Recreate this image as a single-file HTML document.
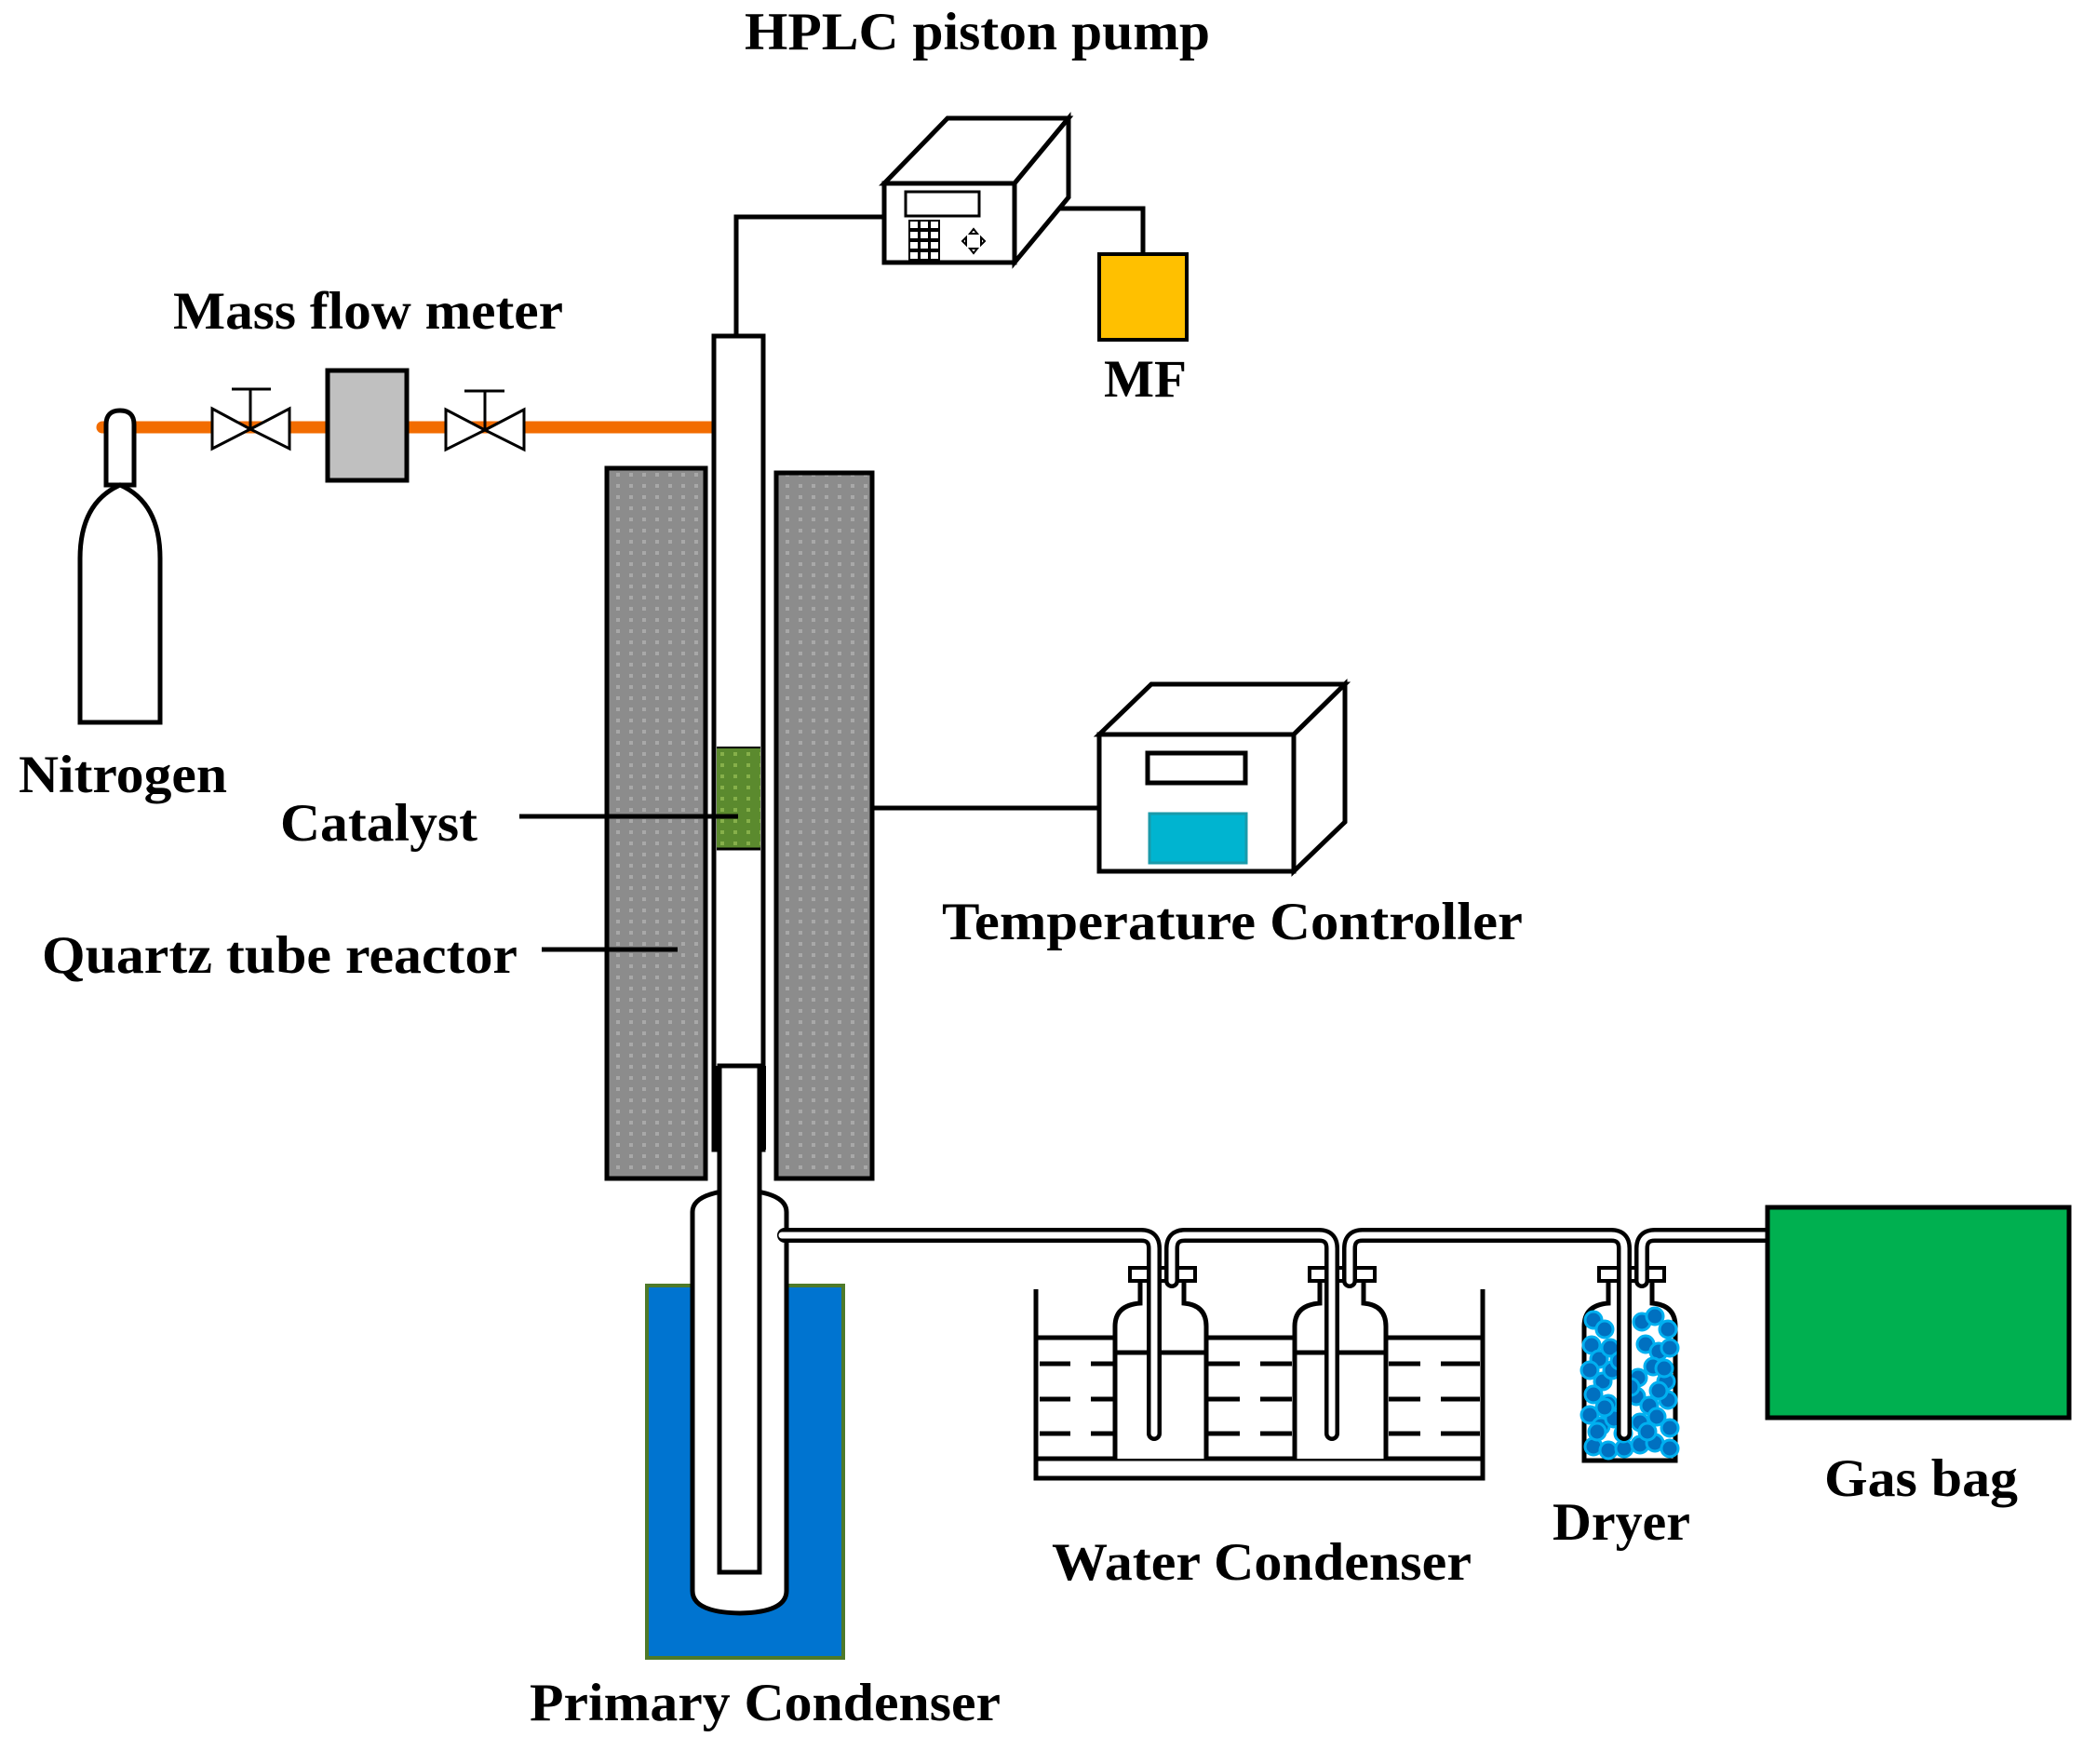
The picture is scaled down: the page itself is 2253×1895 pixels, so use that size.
<!DOCTYPE html>
<html><head><meta charset="utf-8"><style>html,body{margin:0;padding:0;background:#fff}svg{display:block}text{font-family:"Liberation Serif",serif;font-weight:bold;font-size:57px;fill:#000}</style></head><body>
<svg width="2253" height="1895" viewBox="0 0 2253 1895" xmlns="http://www.w3.org/2000/svg">
<defs>
<pattern id="fur" width="14" height="12" patternUnits="userSpaceOnUse"><rect width="14" height="12" fill="#8c8c8c"/><rect x="4" y="4" width="4" height="4" fill="#a8a8a8"/></pattern>
<pattern id="cat" width="14" height="12" patternUnits="userSpaceOnUse"><rect width="14" height="12" fill="#5b8a2e"/><rect x="4" y="4" width="4" height="4" fill="#86b04a"/></pattern>
</defs>
<text x="800" y="53" textLength="500" lengthAdjust="spacingAndGlyphs">HPLC piston pump</text>
<text x="186" y="353" textLength="419" lengthAdjust="spacingAndGlyphs">Mass flow meter</text>
<text x="1186" y="426" textLength="89" lengthAdjust="spacingAndGlyphs">MF</text>
<text x="20" y="851" textLength="224" lengthAdjust="spacingAndGlyphs">Nitrogen</text>
<text x="301" y="903" textLength="212" lengthAdjust="spacingAndGlyphs">Catalyst</text>
<text x="45" y="1045" textLength="511" lengthAdjust="spacingAndGlyphs">Quartz tube reactor</text>
<text x="1012" y="1009" textLength="624" lengthAdjust="spacingAndGlyphs">Temperature Controller</text>
<text x="569" y="1848" textLength="506" lengthAdjust="spacingAndGlyphs">Primary Condenser</text>
<text x="1130" y="1697" textLength="451" lengthAdjust="spacingAndGlyphs">Water Condenser</text>
<text x="1668" y="1654" textLength="148" lengthAdjust="spacingAndGlyphs">Dryer</text>
<text x="1960" y="1607" textLength="208" lengthAdjust="spacingAndGlyphs">Gas bag</text>

<line x1="110" y1="459" x2="772" y2="459" stroke="#f26c00" stroke-width="13" stroke-linecap="round"/>

<g stroke="#000" stroke-width="5">
<path d="M114,521 V456 Q114,441 129,441 Q144,441 144,456 V521 Z" fill="#fff"/>
<path d="M86,776 V600 Q86,540 129,521 Q172,540 172,600 V776 Z" fill="#fff"/>
<path d="M228,439 L269,461 L228,482Z M311,439 L269,461 L311,482Z" fill="#fff" stroke-width="3"/>
<path d="M269,461 V418 M249,418 H291" stroke-width="3" fill="none"/>
<path d="M479,440 L521,462 L479,483Z M563,440 L521,462 L563,483Z" fill="#fff" stroke-width="3"/>
<path d="M521,462 V420 M499,420 H542" stroke-width="3" fill="none"/>
<rect x="352" y="398" width="85" height="118" fill="#c0c0c0"/>

<path d="M791,361 V233 H950" fill="none"/>
<path d="M1113,224 H1228 V273" fill="none"/>
<rect x="1181" y="273" width="94" height="92" fill="#ffc000" stroke-width="4"/>
<path d="M950,197 L1018,127 H1148 L1090,197 Z" fill="#fff"/>
<path d="M1090,197 L1148,127 V212 L1090,282 Z" fill="#fff"/>
<rect x="950" y="197" width="140" height="85" fill="#fff"/>
<rect x="973" y="206" width="79" height="26" fill="#fff" stroke-width="3"/>
<g fill="#fff" stroke-width="2">
<rect x="977" y="237" width="10" height="9"/><rect x="988" y="237" width="10" height="9"/><rect x="999" y="237" width="10" height="9"/>
<rect x="977" y="248" width="10" height="9"/><rect x="988" y="248" width="10" height="9"/><rect x="999" y="248" width="10" height="9"/>
<rect x="977" y="259" width="10" height="9"/><rect x="988" y="259" width="10" height="9"/><rect x="999" y="259" width="10" height="9"/>
<rect x="977" y="270" width="10" height="9"/><rect x="988" y="270" width="10" height="9"/><rect x="999" y="270" width="10" height="9"/>
<path d="M1042,251 L1050,251 L1046,246Z M1042,267 L1050,267 L1046,272Z M1038,255 L1038,263 L1034,259Z M1054,255 L1054,263 L1058,259Z"/>
</g>

<rect x="652" y="503" width="106" height="763" fill="url(#fur)"/>
<rect x="834" y="508" width="103" height="758" fill="url(#fur)"/>
<rect x="767" y="361" width="53" height="874" fill="#fff"/>
<rect x="770" y="803" width="47" height="109" fill="url(#cat)" stroke="none"/>
<line x1="770" y1="803" x2="817" y2="803" stroke-width="2"/>
<line x1="770" y1="912" x2="817" y2="912" stroke-width="3"/>
<line x1="558" y1="877" x2="793" y2="877"/>
<line x1="582" y1="1020" x2="728" y2="1020"/>
<line x1="937" y1="868" x2="1181" y2="868"/>

<path d="M1181,789 L1237,735 H1445 L1390,789 Z" fill="#fff"/>
<path d="M1390,789 L1445,735 V883 L1390,936 Z" fill="#fff"/>
<rect x="1181" y="789" width="209" height="147" fill="#fff"/>
<rect x="1233" y="809" width="105" height="32" fill="#fff"/>
<rect x="1235" y="874" width="104" height="53" fill="#00b4d0" stroke="#1a9aaa" stroke-width="3"/>

<rect x="695" y="1381" width="211" height="400" fill="#0074d0" stroke="#4e7a2a" stroke-width="4"/>
<path d="M744,1302 V1709 Q744,1732 795,1733 Q845,1732 845,1709 V1302 Q845,1281 795,1278 Q744,1281 744,1302Z" fill="#fff"/>
<rect x="773" y="1145" width="43" height="544" fill="#fff"/>
<line x1="769" y1="1145" x2="769" y2="1235" stroke-width="9"/>
<line x1="819" y1="1145" x2="819" y2="1235" stroke-width="8"/>

<path d="M1113,1385 V1588 H1593 V1385" fill="none"/>
<line x1="1113" y1="1567" x2="1593" y2="1567"/>
<line x1="1113" y1="1437" x2="1593" y2="1437"/>
<g stroke-width="5">
<path d="M1117,1465 H1150 M1172,1465 H1196 M1117,1503 H1150 M1172,1503 H1196 M1117,1540 H1150 M1172,1540 H1196"/>
<path d="M1298,1465 H1332 M1354,1465 H1388 M1298,1503 H1332 M1354,1503 H1388 M1298,1540 H1332 M1354,1540 H1388"/>
<path d="M1492,1465 H1526 M1548,1465 H1590 M1492,1503 H1526 M1548,1503 H1590 M1492,1540 H1526 M1548,1540 H1590"/>
</g>
<path d="M1198,1567 V1425 Q1198,1402 1225,1400 V1370 H1272 V1400 Q1296,1402 1296,1425 V1567" fill="#fff"/>
<line x1="1198" y1="1453" x2="1296" y2="1453"/>
<path d="M1391,1567 V1425 Q1391,1402 1418,1400 V1370 H1465 V1400 Q1489,1402 1489,1425 V1567" fill="#fff"/>
<line x1="1391" y1="1453" x2="1489" y2="1453"/>
<path d="M1702,1569 V1425 Q1702,1402 1728,1400 V1370 H1775 V1400 Q1800,1402 1800,1425 V1569 Z" fill="#fff"/>
</g>
<g fill="#0070c0" stroke="#00b0f0" stroke-width="3">
<circle cx="1712" cy="1418" r="9"/><circle cx="1724" cy="1428" r="9"/><circle cx="1764" cy="1420" r="9"/><circle cx="1778" cy="1414" r="9"/><circle cx="1792" cy="1428" r="9"/>
<circle cx="1710" cy="1445" r="9"/><circle cx="1718" cy="1460" r="9"/><circle cx="1730" cy="1448" r="9"/><circle cx="1768" cy="1444" r="9"/><circle cx="1782" cy="1452" r="9"/><circle cx="1794" cy="1448" r="9"/>
<circle cx="1708" cy="1472" r="9"/><circle cx="1722" cy="1484" r="9"/><circle cx="1732" cy="1472" r="9"/><circle cx="1760" cy="1480" r="9"/><circle cx="1776" cy="1468" r="9"/><circle cx="1790" cy="1484" r="9"/>
<circle cx="1712" cy="1498" r="9"/><circle cx="1728" cy="1508" r="9"/><circle cx="1758" cy="1500" r="9"/><circle cx="1772" cy="1510" r="9"/><circle cx="1792" cy="1504" r="9"/>
<circle cx="1708" cy="1520" r="9"/><circle cx="1720" cy="1532" r="9"/><circle cx="1734" cy="1524" r="9"/><circle cx="1762" cy="1528" r="9"/><circle cx="1780" cy="1522" r="9"/><circle cx="1794" cy="1534" r="9"/>
<circle cx="1712" cy="1554" r="9"/><circle cx="1728" cy="1558" r="9"/><circle cx="1745" cy="1556" r="9"/><circle cx="1762" cy="1552" r="9"/><circle cx="1778" cy="1550" r="9"/><circle cx="1794" cy="1556" r="9"/>
<circle cx="1744" cy="1540" r="9"/><circle cx="1752" cy="1490" r="9"/><circle cx="1740" cy="1462" r="9"/><circle cx="1788" cy="1470" r="9"/><circle cx="1716" cy="1538" r="9"/><circle cx="1770" cy="1538" r="9"/><circle cx="1724" cy="1512" r="9"/><circle cx="1782" cy="1494" r="9"/>
</g>
<g stroke="#000" stroke-width="4" fill="#fff">
<rect x="1214" y="1362" width="70" height="14"/><rect x="1407" y="1362" width="70" height="14"/><rect x="1718" y="1362" width="70" height="14"/>
</g>
<g fill="none" stroke-linejoin="round" stroke-linecap="round">
<g stroke="#000" stroke-width="16">
<path d="M843,1327 H1226 Q1240,1327 1240,1341 V1540"/>
<path d="M1259,1376 V1341 Q1259,1327 1273,1327 H1417 Q1431,1327 1431,1341 V1540"/>
<path d="M1450,1376 V1341 Q1450,1327 1464,1327 H1731 Q1745,1327 1745,1341 V1540"/>
<path d="M1764,1376 V1341 Q1764,1327 1778,1327 H1900"/>
</g>
<g stroke="#fff" stroke-width="7">
<path d="M840,1327 H1226 Q1240,1327 1240,1341 V1540"/>
<path d="M1259,1376 V1341 Q1259,1327 1273,1327 H1417 Q1431,1327 1431,1341 V1540"/>
<path d="M1450,1376 V1341 Q1450,1327 1464,1327 H1731 Q1745,1327 1745,1341 V1540"/>
<path d="M1764,1376 V1341 Q1764,1327 1778,1327 H1898"/>
</g>
</g>
<rect x="1899" y="1297" width="324" height="226" fill="#00b050" stroke="#000" stroke-width="5"/>
</svg>
</body></html>
